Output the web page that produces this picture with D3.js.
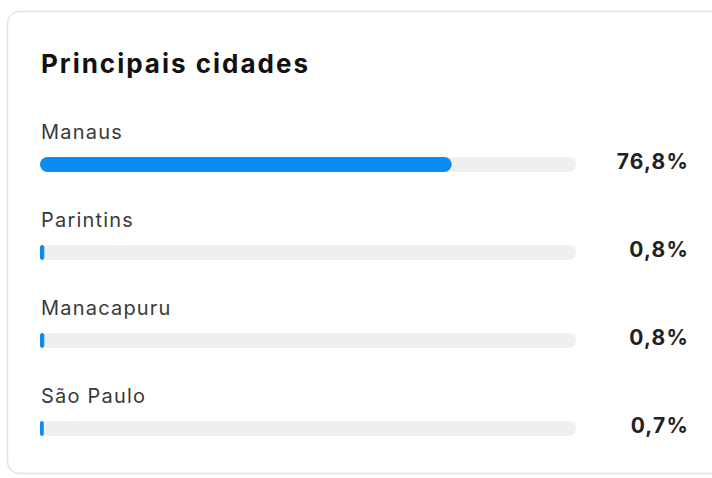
<!DOCTYPE html>
<html>
<head>
<meta charset="utf-8">
<script src="https://cdn.jsdelivr.net/npm/d3@7"></script>
<style>
  html, body { margin: 0; padding: 0; background: #ffffff; }
  svg { display: block; }
</style>
</head>
<body>
<svg id="chart" width="712" height="478"></svg>
<script>
const title = "Principais cidades";
const cities = ["Manaus", "Parintins", "Manacapuru", "São Paulo"];
const shares = [76.8, 0.8, 0.8, 0.7];
const shareLabels = ["76,8%", "0,8%", "0,8%", "0,7%"];

const data = cities.map((c, i) => ({ city: c, value: shares[i], label: shareLabels[i] }));

const svg = d3.select("#chart");
const FONT = "Inter, 'Liberation Sans', Arial, sans-serif";

// card
svg.append("rect")
  .attr("x", 7.5).attr("y", 11.5)
  .attr("width", 740).attr("height", 462)
  .attr("rx", 12)
  .attr("fill", "#ffffff")
  .attr("stroke", "#e4e4e4")
  .attr("stroke-width", 1.5);

svg.append("text")
  .attr("x", 41).attr("y", 73)
  .attr("font-family", FONT)
  .attr("font-weight", 700)
  .attr("font-size", 26)
  .attr("letter-spacing", 2.0)
  .attr("fill", "#111111")
  .text(title);

const x = d3.scaleLinear().domain([0, 100]).range([40, 576]);
const y = d3.scaleBand().domain(cities).range([112, 464]).paddingInner(0);
const barH = 15;

const rows = svg.append("g").selectAll("g.row").data(data).join("g")
  .attr("class", "row")
  .attr("transform", d => `translate(0,${y(d.city)})`);

rows.append("text")
  .attr("x", 41).attr("y", 27)
  .attr("font-family", FONT)
  .attr("font-size", 20)
  .attr("letter-spacing", 1.2)
  .attr("fill", "#3a3a3a")
  .text(d => d.city);

rows.append("rect")
  .attr("x", x(0)).attr("y", 45)
  .attr("width", x(100) - x(0)).attr("height", barH)
  .attr("rx", barH / 2)
  .attr("fill", "#efefef");

rows.append("rect")
  .attr("x", x(0)).attr("y", 45)
  .attr("width", d => x(d.value) - x(0)).attr("height", barH)
  .attr("rx", d => Math.min(barH / 2, (x(d.value) - x(0)) / 2))
  .attr("fill", "#0a8cf2");

rows.append("text")
  .attr("x", 689).attr("y", 57)
  .attr("text-anchor", "end")
  .attr("font-family", FONT)
  .attr("font-weight", 700)
  .attr("font-size", 21)
  .attr("letter-spacing", 1.2)
  .attr("fill", "#222222")
  .text(d => d.label);
</script>
</body>
</html>
